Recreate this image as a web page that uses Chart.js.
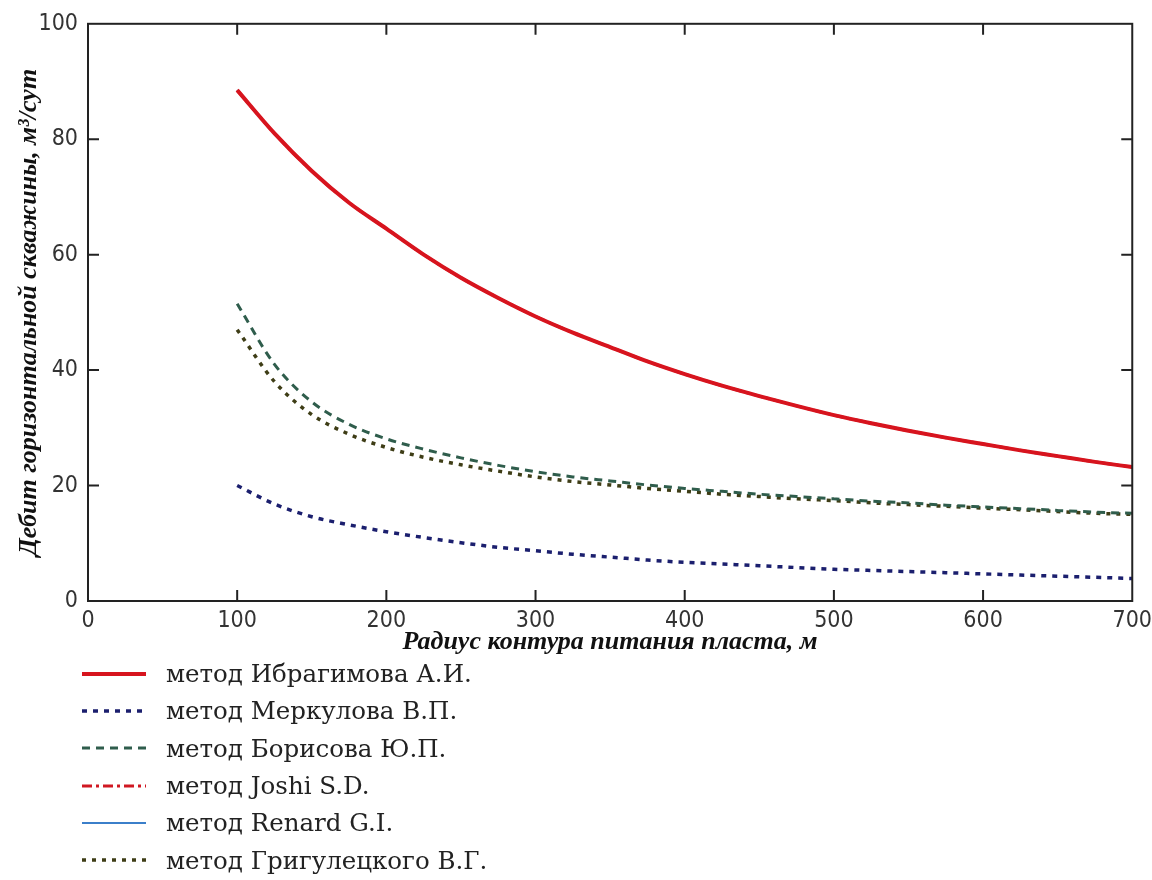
<!DOCTYPE html>
<html>
<head>
<meta charset="utf-8">
<script src="https://cdn.jsdelivr.net/npm/chart.js@4/dist/chart.umd.min.js"></script>
<style>
  html, body { margin: 0; padding: 0; background: #fff; overflow: hidden; }
  #wrap { position: relative; width: 1158px; height: 880px; }
  #legend { position: absolute; left: 80px; top: 655px; }
  .row { display: flex; align-items: center; height: 37.3px; }
  .row svg { width: 68px; height: 20px; margin-right: 18px; }
  .row span { font-family: 'DejaVu Serif', 'Liberation Serif', serif; font-size: 24.5px; color: #222; }
</style>
</head>
<body>
<div id="wrap">
  <canvas id="chart"></canvas>
  <div id="legend"></div>
</div>
<script>
(function () {
  // радиус контура питания, м
  const radius = [100, 125, 150, 175, 200, 225, 250, 275, 300, 325, 350, 375, 400,
    425, 450, 475, 500, 525, 550, 575, 600, 625, 650, 675, 700];

  const ibragimov = [88.5, 81, 74.5, 69, 64.5, 60, 56, 52.5, 49.3, 46.5, 44, 41.5, 39.3,
    37.3, 35.5, 33.8, 32.2, 30.8, 29.5, 28.3, 27.2, 26.1, 25.1, 24.1, 23.2];
  const merkulov = [20, 16.8, 14.6, 13.2, 12.0, 11.0, 10.1, 9.3, 8.7, 8.1, 7.6, 7.1, 6.7,
    6.4, 6.1, 5.8, 5.5, 5.3, 5.1, 4.9, 4.7, 4.5, 4.3, 4.1, 3.9];
  const borisov = [51.5, 41, 34.5, 30.6, 28.1, 26.3, 24.8, 23.5, 22.4, 21.5, 20.8, 20.1, 19.5,
    19.0, 18.5, 18.1, 17.7, 17.3, 17.0, 16.6, 16.3, 16.0, 15.7, 15.4, 15.2];
  const joshi = [88.5, 81, 74.5, 69, 64.5, 60, 56, 52.5, 49.3, 46.5, 44, 41.5, 39.3,
    37.3, 35.5, 33.8, 32.2, 30.8, 29.5, 28.3, 27.2, 26.1, 25.1, 24.1, 23.2];
  const renard = [88.5, 81, 74.5, 69, 64.5, 60, 56, 52.5, 49.3, 46.5, 44, 41.5, 39.3,
    37.3, 35.5, 33.8, 32.2, 30.8, 29.5, 28.3, 27.2, 26.1, 25.1, 24.1, 23.2];
  const grigulecky = [47, 38, 32.3, 28.9, 26.6, 24.9, 23.6, 22.5, 21.5, 20.7, 20.1, 19.5, 19.0,
    18.5, 18.1, 17.7, 17.4, 17.0, 16.7, 16.4, 16.1, 15.8, 15.5, 15.2, 15.0];

  const names = [
    'метод Ибрагимова А.И.',
    'метод Меркулова В.П.',
    'метод Борисова Ю.П.',
    'метод Joshi S.D.',
    'метод Renard G.I.',
    'метод Григулецкого В.Г.',
  ];
  const xTitle = 'Радиус контура питания пласта, м';
  const yTitle = 'Дебит горизонтальной скважины, м³/сут';

  const series = [ibragimov, merkulov, borisov, joshi, renard, grigulecky];
  const colors = ['#d7141e', '#1b1f6e', '#2f5d4c', '#d01822', '#3b7fca', '#3e3d16'];
  const widths = [4, 3.5, 3, 3, 2, 3.5];
  const dashes = [[], [5, 6], [8, 6], [10, 4, 3, 4], [], [4, 6]];

  const pts = (vals) => vals.map((v, i) => ({ x: radius[i], y: v }));

  const datasets = series.map((vals, i) => ({
    label: names[i],
    data: pts(vals),
    borderColor: colors[i],
    borderWidth: widths[i],
    borderDash: dashes[i],
    pointRadius: 0,
    fill: false,
    cubicInterpolationMode: 'monotone',
  }));

  // рамка и внутренние риски
  const frame = {
    id: 'frame',
    afterDraw(chart) {
      const { ctx, chartArea: a, scales: { x, y } } = chart;
      ctx.save();
      ctx.strokeStyle = '#222';
      ctx.lineWidth = 2;
      ctx.strokeRect(a.left, a.top, a.right - a.left, a.bottom - a.top);
      const len = 11;
      ctx.beginPath();
      x.ticks.forEach((t) => {
        if (t.value <= x.min || t.value >= x.max) return;
        const px = x.getPixelForValue(t.value);
        ctx.moveTo(px, a.bottom); ctx.lineTo(px, a.bottom - len);
        ctx.moveTo(px, a.top); ctx.lineTo(px, a.top + len);
      });
      y.ticks.forEach((t) => {
        if (t.value <= y.min || t.value >= y.max) return;
        const py = y.getPixelForValue(t.value);
        ctx.moveTo(a.left, py); ctx.lineTo(a.left + len, py);
        ctx.moveTo(a.right, py); ctx.lineTo(a.right - len, py);
      });
      ctx.stroke();
      ctx.restore();
    },
  };

  const tickFont = { family: "'Liberation Sans Narrow', 'DejaVu Sans Condensed', 'Liberation Sans', sans-serif", size: 23 };
  const titleFont = { family: "'Liberation Serif', 'DejaVu Serif', serif", size: 26, weight: 'bold', style: 'italic' };

  const chart = new Chart(document.getElementById('chart'), {
    type: 'line',
    data: { datasets: datasets },
    plugins: [frame],
    options: {
      responsive: true,
      maintainAspectRatio: false,
      animation: false,
      layout: { padding: { left: 0, right: 0, top: 23, bottom: 222 } },
      plugins: { legend: { display: false }, tooltip: { enabled: false } },
      scales: {
        x: {
          type: 'linear',
          min: 0,
          max: 700,
          ticks: { stepSize: 100, color: '#333', font: tickFont, padding: 6, maxRotation: 0 },
          grid: { display: false, drawTicks: false },
          border: { display: false },
          title: { display: true, text: xTitle, color: '#111', font: titleFont, padding: 0 },
          afterFit(s) { s.height = 57; },
        },
        y: {
          min: 0,
          max: 100,
          ticks: { stepSize: 20, color: '#333', font: tickFont, padding: 10 },
          grid: { display: false, drawTicks: false },
          border: { display: false },
          title: { display: true, text: yTitle, color: '#111', font: titleFont, padding: { top: 14, bottom: 0 } },
          afterFit(s) { s.width = 88; },
        },
      },
    },
  });

  // легенда под графиком
  const legend = document.getElementById('legend');
  chart.data.datasets.forEach((ds) => {
    const row = document.createElement('div');
    row.className = 'row';
    const dash = ds.borderDash.length ? ds.borderDash.join(' ') : 'none';
    row.innerHTML =
      '<svg viewBox="0 0 68 20"><line x1="2" y1="10" x2="66" y2="10" stroke="' + ds.borderColor +
      '" stroke-width="' + ds.borderWidth + '" stroke-dasharray="' + dash + '"/></svg>' +
      '<span>' + ds.label + '</span>';
    legend.appendChild(row);
  });
})();
</script>
</body>
</html>
